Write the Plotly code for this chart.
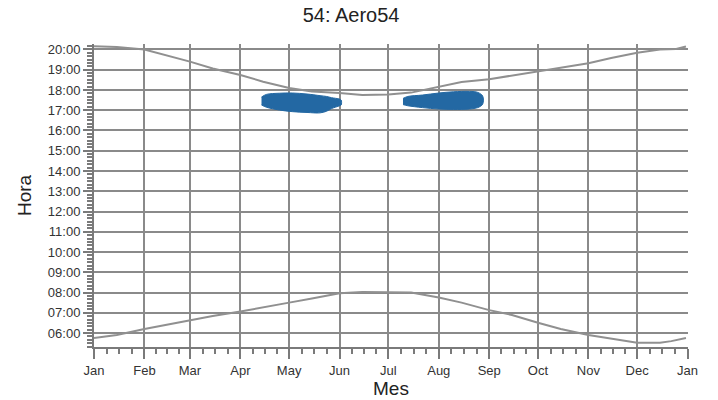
import plotly.graph_objects as go
import pandas as pd

# ---- data (hours as decimal) ----
sunset_dates = ["2023-01-01", "2023-01-15", "2023-02-01", "2023-02-15", "2023-03-01",
                "2023-03-15", "2023-04-01", "2023-04-15", "2023-05-01", "2023-05-15",
                "2023-06-01", "2023-06-15", "2023-07-01", "2023-07-15", "2023-08-01",
                "2023-08-15", "2023-09-01", "2023-09-15", "2023-10-01", "2023-10-15",
                "2023-11-01", "2023-11-15", "2023-12-01", "2023-12-15", "2023-12-25",
                "2023-12-31"]
sunset_hours = [20.16, 20.12, 20.00, 19.70, 19.40,
                19.06, 18.74, 18.41, 18.10, 17.92,
                17.85, 17.75, 17.78, 17.87, 18.16,
                18.39, 18.53, 18.71, 18.90, 19.11,
                19.32, 19.58, 19.84, 20.00, 20.02,
                20.15]

sunrise_dates = ["2023-01-01", "2023-01-15", "2023-02-01", "2023-02-15", "2023-03-01",
                 "2023-03-15", "2023-04-01", "2023-04-15", "2023-05-01", "2023-05-15",
                 "2023-06-01", "2023-06-15", "2023-07-01", "2023-07-15", "2023-08-01",
                 "2023-08-15", "2023-09-01", "2023-09-15", "2023-10-01", "2023-10-15",
                 "2023-11-01", "2023-11-15", "2023-12-01", "2023-12-15", "2023-12-22",
                 "2023-12-31"]
sunrise_hours = [5.75, 5.90, 6.20, 6.42, 6.64,
                 6.84, 7.06, 7.28, 7.50, 7.70,
                 7.96, 8.02, 8.02, 8.00, 7.75,
                 7.50, 7.13, 6.89, 6.51, 6.20,
                 5.90, 5.74, 5.52, 5.52, 5.60,
                 5.75]

flicker1_dates = ["2023-04-14", "2023-04-17", "2023-04-25", "2023-05-03", "2023-05-12",
                  "2023-05-20", "2023-05-24", "2023-05-27", "2023-06-01", "2023-06-02"]
flicker1_start = [17.26, 17.15, 17.01, 16.93, 16.89, 16.87, 16.95, 17.08, 17.22, 17.26]
flicker1_end = [17.65, 17.78, 17.84, 17.85, 17.80, 17.72, 17.68, 17.62, 17.55, 17.50]

flicker2_dates = ["2023-07-10", "2023-07-13", "2023-07-22", "2023-08-01", "2023-08-10",
                  "2023-08-20", "2023-08-25", "2023-08-28"]
flicker2_start = [17.28, 17.22, 17.13, 17.06, 17.04, 17.06, 17.13, 17.30]
flicker2_end = [17.58, 17.68, 17.75, 17.85, 17.91, 17.93, 17.88, 17.70]

month_ticks = ["2023-01-01", "2023-02-01", "2023-03-01", "2023-04-01", "2023-05-01",
               "2023-06-01", "2023-07-01", "2023-08-01", "2023-09-01", "2023-10-01",
               "2023-11-01", "2023-12-01", "2024-01-01"]
month_labels = ["Jan", "Feb", "Mar", "Apr", "May", "Jun", "Jul", "Aug", "Sep", "Oct",
                "Nov", "Dec", "Jan"]
hour_ticks = list(range(6, 21))
hour_labels = ["%02d:00" % h for h in hour_ticks]

# minor x ticks: quarters of each month
minor_x = []
for i in range(12):
    a = pd.Timestamp(month_ticks[i])
    b = pd.Timestamp(month_ticks[i + 1])
    for k in (1, 2, 3):
        minor_x.append((a + (b - a) * k / 4).strftime("%Y-%m-%d %H:%M"))

GRID = "#8a8a8a"
AXIS = "#7a7a7a"
CURVE = "#909090"
BLUE = "#2368a3"
FONT = "Arial, Liberation Sans, sans-serif"

fig = go.Figure()
fig.add_trace(go.Scatter(x=sunrise_dates, y=sunrise_hours, mode="lines",
                         line=dict(color=CURVE, width=2), hoverinfo="skip"))
fig.add_trace(go.Scatter(x=sunset_dates, y=sunset_hours, mode="lines",
                         line=dict(color=CURVE, width=2), hoverinfo="skip"))
for d, s, e in [(flicker1_dates, flicker1_start, flicker1_end),
                (flicker2_dates, flicker2_start, flicker2_end)]:
    fig.add_trace(go.Scatter(x=d + d[::-1], y=e + s[::-1], mode="lines",
                             fill="toself", fillcolor=BLUE,
                             line=dict(color=BLUE, width=1, shape="spline"),
                             hoverinfo="skip"))

fig.update_layout(
    width=718, height=400,
    margin=dict(l=94, r=30, t=44, b=53, autoexpand=False),
    paper_bgcolor="white", plot_bgcolor="white",
    showlegend=False,
    font=dict(family=FONT, color="#333333"),
    title=dict(text="54: Aero54", x=0.489, xanchor="center", y=0.9625, yanchor="middle",
               font=dict(size=20, color="#222222", family=FONT), automargin=False),
)
fig.update_xaxes(
    type="date", range=["2023-01-01", "2024-01-01 06:00"],
    automargin=False,
    tickmode="array", tickvals=month_ticks, ticktext=month_labels,
    showgrid=True, gridcolor=GRID, gridwidth=2,
    showline=True, linecolor=AXIS, linewidth=2,
    ticks="outside", ticklen=10, tickwidth=2, tickcolor=AXIS,
    tickfont=dict(size=13, color="#333333"),
    minor=dict(tickmode="array", tickvals=minor_x, ticks="outside", ticklen=5,
               tickwidth=1.5, tickcolor=AXIS, showgrid=False),
    zeroline=False,
    title=dict(text="Mes", font=dict(size=19, color="#222222"), standoff=2),
)
fig.update_yaxes(
    range=[5.31, 20.27],
    automargin=False,
    tickmode="array", tickvals=hour_ticks, ticktext=hour_labels,
    showgrid=True, gridcolor=GRID, gridwidth=2,
    showline=True, linecolor=AXIS, linewidth=2,
    ticks="outside", ticklen=9, tickwidth=2, tickcolor=AXIS,
    tickfont=dict(size=13, color="#333333"),
    minor=dict(tick0=0, dtick=1 / 6, ticks="outside", ticklen=5,
               tickwidth=1.5, tickcolor=AXIS, showgrid=False),
    zeroline=False,
    title=dict(text="Hora", font=dict(size=19, color="#222222"), standoff=11),
)

fig.write_html("out.html", config={"displayModeBar": False},
               post_script="document.body.style.margin='0px';")
